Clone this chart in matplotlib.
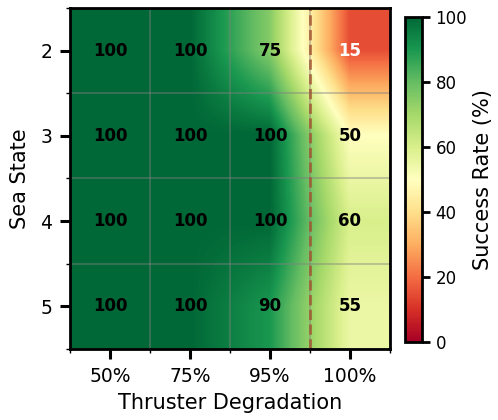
import numpy as np
import matplotlib
matplotlib.use("Agg")
import matplotlib.pyplot as plt

sea_states = ["2", "3", "4", "5"]
degradation = ["50%", "75%", "95%", "100%"]
success = np.array([
    [100, 100, 75, 15],
    [100, 100, 100, 50],
    [100, 100, 100, 60],
    [100, 100, 90, 55],
])

fig = plt.figure(figsize=(4.98, 4.2), dpi=100)
ax = fig.add_axes([0.141, 0.169, 0.642, 0.812])
cax = fig.add_axes([0.813, 0.185, 0.035, 0.775])

im = ax.imshow(success, cmap="RdYlGn", vmin=0, vmax=100, aspect="auto",
               interpolation="bilinear")

for i in range(len(sea_states)):
    for j in range(len(degradation)):
        v = success[i, j]
        ax.text(j, i, f"{v}", ha="center", va="center", fontsize=12,
                fontweight="bold", color="white" if v < 30 else "black")

ax.set_xticks(range(len(degradation)))
ax.set_xticklabels(degradation, fontsize=13.5)
ax.set_yticks(range(len(sea_states)))
ax.set_yticklabels(sea_states, fontsize=13.5)
ax.set_xticks(np.arange(-0.5, len(degradation), 1), minor=True)
ax.set_yticks(np.arange(-0.5, len(sea_states), 1), minor=True)
ax.grid(which="minor", color="gray", alpha=0.5, linewidth=1.2)
ax.tick_params(which="major", length=7, width=2.2, pad=6)
ax.tick_params(which="minor", length=3, width=1)
ax.set_xlabel("Thruster Degradation", fontsize=15, labelpad=5)
ax.set_ylabel("Sea State", fontsize=15, labelpad=7)
ax.axvline(2.5, color="sienna", linestyle="--", linewidth=2, alpha=0.8)
for s in ax.spines.values():
    s.set_linewidth(2)

cb = fig.colorbar(im, cax=cax)
cb.set_label("Success Rate (%)", fontsize=15)
cb.ax.tick_params(labelsize=12, length=6, width=2)
cb.outline.set_linewidth(2)

fig.savefig("out.png", dpi=100)
